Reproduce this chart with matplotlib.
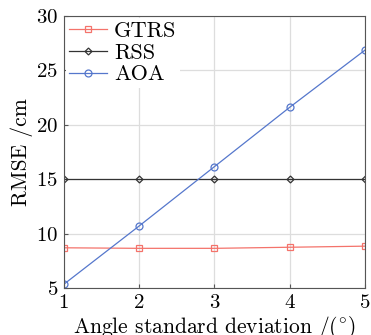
import matplotlib
matplotlib.use("Agg")
import matplotlib.pyplot as plt

plt.rcParams['font.family'] = 'serif'
plt.rcParams['font.serif'] = ['cmr10']
plt.rcParams['mathtext.fontset'] = 'cm'
plt.rcParams['axes.formatter.use_mathtext'] = True

angle_std = [1, 2, 3, 4, 5]
gtrs = [8.7, 8.65, 8.65, 8.75, 8.85]
rss = [15.0, 15.0, 15.0, 15.0, 15.0]
aoa = [5.35, 10.7, 16.15, 21.6, 26.85]

fig, ax = plt.subplots(figsize=(3.71, 3.35), dpi=100)
fig.subplots_adjust(left=0.172, right=0.984, top=0.953, bottom=0.14)

ax.plot(angle_std, gtrs, color='#f4736b', lw=0.9, marker='s', ms=4.5, mfc='none', mew=0.9, label='GTRS')
ax.plot(angle_std, rss, color='#333333', lw=0.9, marker='D', ms=3.5, mfc='none', mew=0.9, label='RSS')
ax.plot(angle_std, aoa, color='#5577cc', lw=0.9, marker='o', ms=5, mfc='none', mew=0.9, label='AOA')

ax.set_xlim(1, 5)
ax.set_ylim(5, 30)
ax.set_xticks(angle_std)
ax.set_yticks([5, 10, 15, 20, 25, 30])
ax.grid(True, color='#dddddd', lw=0.9)
ax.tick_params(direction='in', labelsize=15, length=3, color='#555555', pad=4)
for s in ax.spines.values():
    s.set_color('#555555')

ax.set_xlabel(r'Angle standard deviation /($^{\circ}$)', fontsize=15.5, labelpad=1.5)
ax.set_ylabel('RMSE /cm', fontsize=15.5, labelpad=2)

leg = ax.legend(loc='upper left', fontsize=16, frameon=True, edgecolor='none', framealpha=1,
                borderaxespad=0.1, borderpad=0.15, handlelength=1.7, handletextpad=0.3, labelspacing=0.1)
leg.get_frame().set_linewidth(0)

fig.savefig('out.png', dpi=100)
